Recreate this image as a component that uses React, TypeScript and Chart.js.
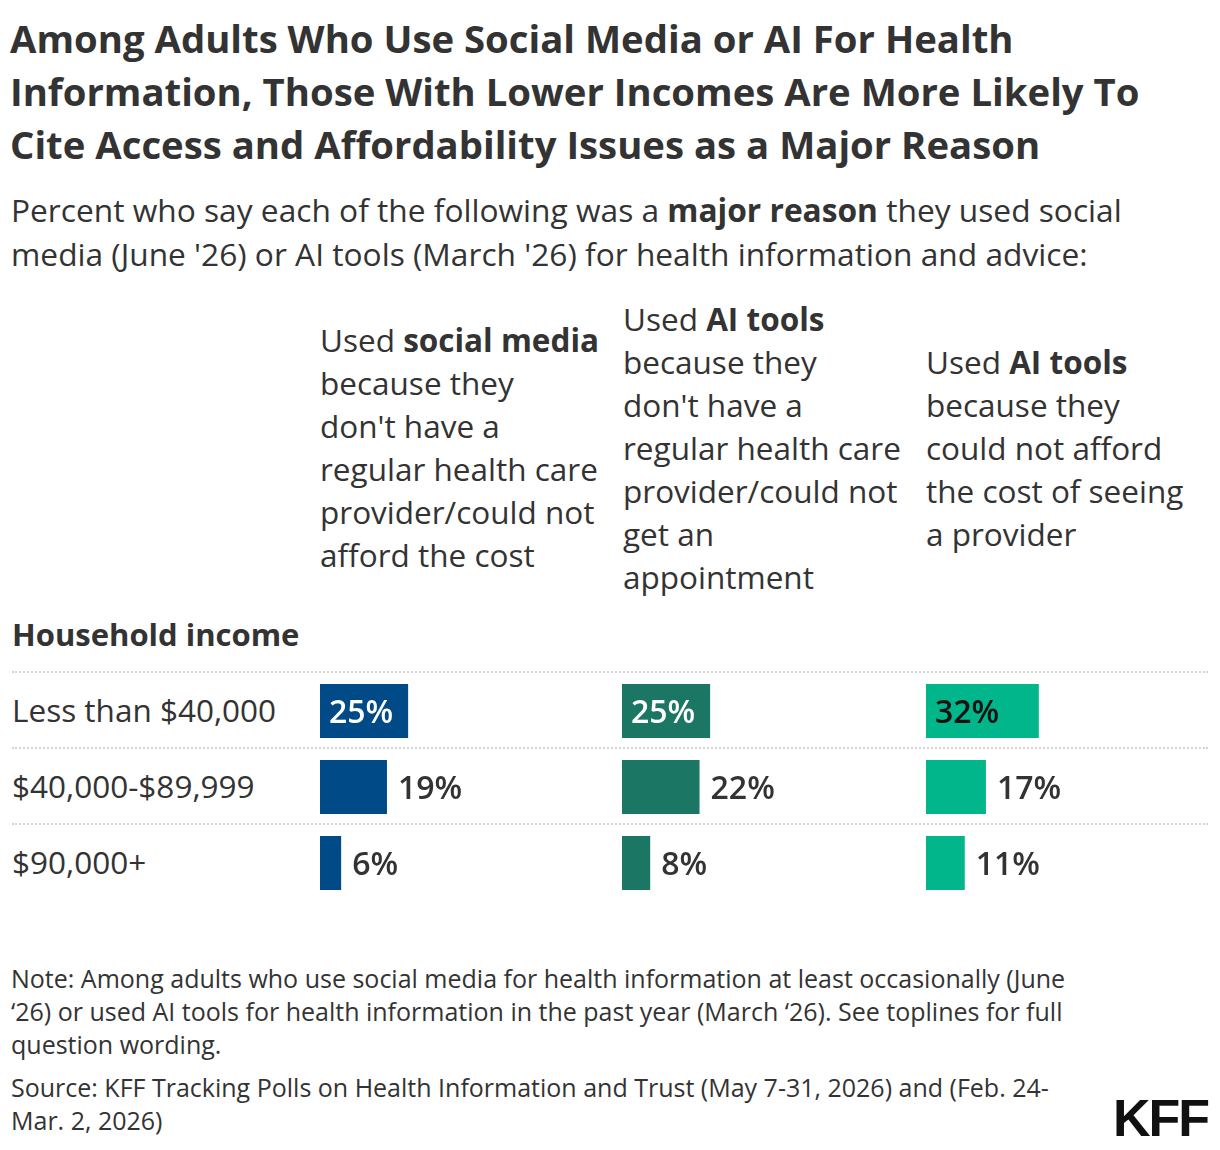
import React, { useEffect, useRef } from "react";
import { Chart, registerables } from "chart.js";

Chart.register(...registerables);

const FONT = "'Open Sans', 'Noto Sans', sans-serif";

const titleLines = [
  "Among Adults Who Use Social Media or AI For Health",
  "Information, Those With Lower Incomes Are More Likely To",
  "Cite Access and Affordability Issues as a Major Reason",
];

const incomeGroups = ["Less than $40,000", "$40,000-$89,999", "$90,000+"];

const socialNoProvider = [25, 19, 6];
const aiNoProvider = [25, 22, 8];
const aiCannotAfford = [32, 17, 11];

const panelColors = ["#004A87", "#1B7763", "#00B68A"];
const insideLabelColors = ["#FFFFFF", "#FFFFFF", "#111111"];

const X_MAX = 80;

const valueLabelPlugin = {
  id: "valueLabels",
  afterDatasetsDraw(chart: any, _args: any, opts: any) {
    const ctx = chart.ctx;
    const meta = chart.getDatasetMeta(0);
    const data = chart.data.datasets[0].data as number[];
    ctx.save();
    ctx.font = `600 32px ${FONT}`;
    ctx.textBaseline = "middle";
    ctx.textAlign = "left";
    meta.data.forEach((bar: any, i: number) => {
      const txt = `${data[i]}%`;
      const w = ctx.measureText(txt).width;
      const left = bar.base;
      const right = bar.x;
      if (right - left >= w + 16) {
        ctx.fillStyle = opts.insideColor;
        ctx.fillText(txt, left + 9, bar.y + 3);
      } else {
        ctx.fillStyle = "#333333";
        ctx.fillText(txt, right + 11, bar.y + 3);
      }
    });
    ctx.restore();
  },
};

function Panel({ values, color, insideColor }: { values: number[]; color: string; insideColor: string }) {
  const ref = useRef<HTMLCanvasElement>(null);
  useEffect(() => {
    if (!ref.current) return;
    const chart = new Chart(ref.current, {
      type: "bar",
      data: {
        labels: incomeGroups,
        datasets: [
          {
            data: values,
            backgroundColor: color,
            borderWidth: 0,
            barPercentage: 54 / 76,
            categoryPercentage: 1,
          },
        ],
      },
      options: {
        indexAxis: "y",
        animation: false,
        responsive: false,
        maintainAspectRatio: false,
        layout: { padding: 0 },
        plugins: {
          legend: { display: false },
          tooltip: { enabled: false },
          valueLabels: { insideColor },
        } as any,
        scales: {
          x: { display: false, min: 0, max: X_MAX },
          y: { display: false },
        },
      },
      plugins: [valueLabelPlugin],
    });
    return () => chart.destroy();
  }, []);
  return <canvas ref={ref} width={282} height={228} style={{ width: 282, height: 228, display: "block" }} />;
}

const headerStyle: React.CSSProperties = {
  position: "absolute",
  top: 300,
  height: 294,
  display: "flex",
  alignItems: "center",
  fontSize: 31.5,
  lineHeight: "43px",
  color: "#333",
  whiteSpace: "nowrap",
};

export default function App() {
  const panels = [
    { left: 320, values: socialNoProvider },
    { left: 622, values: aiNoProvider },
    { left: 926, values: aiCannotAfford },
  ];
  const seps = [672, 748, 824];
  const rowCenters = [710, 786, 862];
  return (
    <div
      style={{
        position: "absolute",
        left: 0,
        top: 0,
        width: 1220,
        height: 1150,
        background: "#fff",
        fontFamily: FONT,
        color: "#333",
      }}
    >
      <div
        style={{
          position: "absolute",
          left: 10,
          top: 12,
          fontSize: 38.3,
          fontWeight: 700,
          lineHeight: "53px",
          whiteSpace: "nowrap",
          color: "#333",
        }}
      >
        {titleLines.map((l) => (
          <div key={l}>{l}</div>
        ))}
      </div>
      <div
        style={{
          position: "absolute",
          left: 11,
          top: 188,
          fontSize: 31.7,
          lineHeight: "44px",
          whiteSpace: "nowrap",
        }}
      >
        <div>
          Percent who say each of the following was a <b>major reason</b> they used social
        </div>
        <div>media (June '26) or AI tools (March '26) for health information and advice:</div>
      </div>

      <div style={{ ...headerStyle, left: 320 }}>
        <div>
          Used <b>social media</b>
          <br />
          because they
          <br />
          don't have a
          <br />
          regular health care
          <br />
          provider/could not
          <br />
          afford the cost
        </div>
      </div>
      <div style={{ ...headerStyle, left: 623 }}>
        <div>
          Used <b>AI tools</b>
          <br />
          because they
          <br />
          don't have a
          <br />
          regular health care
          <br />
          provider/could not
          <br />
          get an
          <br />
          appointment
        </div>
      </div>
      <div style={{ ...headerStyle, left: 926 }}>
        <div>
          Used <b>AI tools</b>
          <br />
          because they
          <br />
          could not afford
          <br />
          the cost of seeing
          <br />
          a provider
        </div>
      </div>

      <div
        style={{
          position: "absolute",
          left: 12,
          top: 612,
          fontSize: 31,
          fontWeight: 700,
          lineHeight: "44px",
          whiteSpace: "nowrap",
        }}
      >
        Household income
      </div>

      {seps.map((y) => (
        <div
          key={y}
          style={{
            position: "absolute",
            left: 12,
            top: y - 1,
            width: 1196,
            height: 0,
            borderTop: "2px dotted #d4d4d4",
          }}
        />
      ))}

      {incomeGroups.map((g, i) => (
        <div
          key={g}
          style={{
            position: "absolute",
            left: 12,
            top: rowCenters[i] - 22,
            fontSize: 31.5,
            lineHeight: "44px",
            whiteSpace: "nowrap",
          }}
        >
          {g}
        </div>
      ))}

      {panels.map((p, i) => (
        <div key={p.left} style={{ position: "absolute", left: p.left, top: 673 }}>
          <Panel values={p.values} color={panelColors[i]} insideColor={insideLabelColors[i]} />
        </div>
      ))}

      <div
        style={{
          position: "absolute",
          left: 11,
          top: 962,
          fontSize: 25,
          lineHeight: "33px",
          whiteSpace: "nowrap",
        }}
      >
        <div>Note: Among adults who use social media for health information at least occasionally (June</div>
        <div>‘26) or used AI tools for health information in the past year (March ‘26). See toplines for full</div>
        <div>question wording.</div>
      </div>
      <div
        style={{
          position: "absolute",
          left: 11,
          top: 1071,
          fontSize: 25,
          lineHeight: "33px",
          whiteSpace: "nowrap",
        }}
      >
        <div>Source: KFF Tracking Polls on Health Information and Trust (May 7-31, 2026) and (Feb. 24-</div>
        <div>Mar. 2, 2026)</div>
      </div>

      <div
        style={{
          position: "absolute",
          right: 12,
          top: 1090,
          fontFamily: "'Liberation Sans', Arial, sans-serif",
          fontSize: 52,
          fontWeight: 700,
          lineHeight: "56px",
          letterSpacing: -2,
          color: "#111",
        }}
      >
        KFF
      </div>
    </div>
  );
}
